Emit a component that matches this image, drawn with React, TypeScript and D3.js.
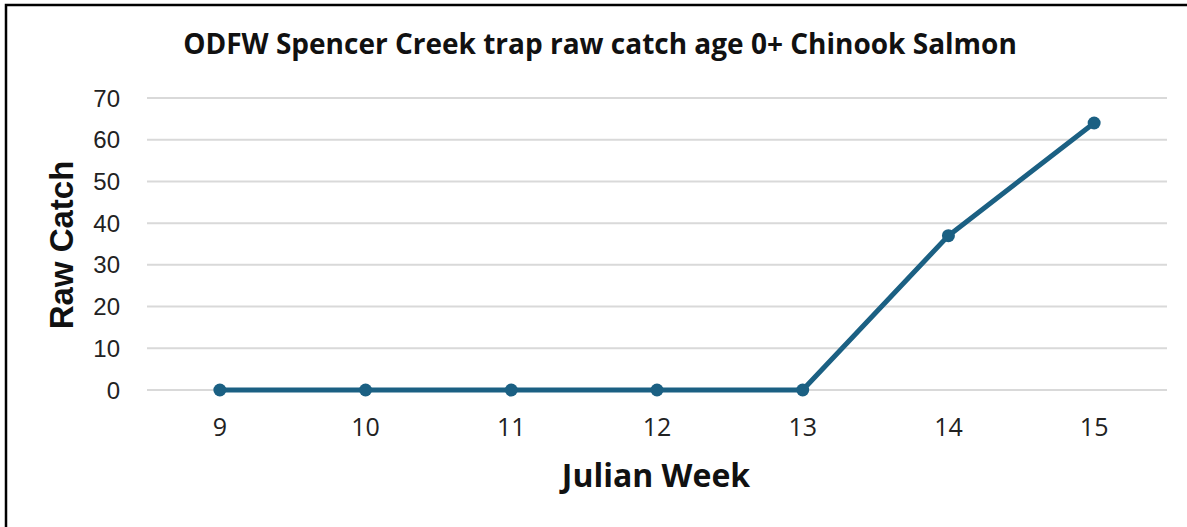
import React from "react";
import * as d3 from "d3";

const weeks = [9, 10, 11, 12, 13, 14, 15];
const rawCatch = [0, 0, 0, 0, 0, 37, 64];
const yTicks = [0, 10, 20, 30, 40, 50, 60, 70];
const title = "ODFW Spencer Creek trap raw catch age 0+ Chinook Salmon";
const xTitle = "Julian Week";
const yTitle = "Raw Catch";

const W = 1187;
const H = 527;
const plot = { left: 147, right: 1167, top: 98, bottom: 390 };
const color = "#1b6083";

export default function App() {
  const x = d3
    .scalePoint<number>()
    .domain(weeks)
    .range([plot.left, plot.right])
    .padding(0.5);
  const y = d3.scaleLinear().domain([0, 70]).range([plot.bottom, plot.top]);
  const pts = weeks.map((w, i) => [x(w) as number, y(rawCatch[i])] as [number, number]);
  const line = d3.line()(pts) || "";

  return (
    <svg
      width={W}
      height={H}
      style={{ position: "absolute", left: 0, top: 0, background: "#fff" }}
    >
      <rect x={0} y={0} width={W} height={H} fill="#fff" />
      <rect x={6} y={5} width={W + 20} height={H + 20} fill="none" stroke="#000" strokeWidth={2.5} />
      <text
        x={600}
        y={54}
        textAnchor="middle"
        fontFamily="'Open Sans', sans-serif"
        fontWeight="bold"
        fontSize={28}
        fill="#111"
      >
        {title}
      </text>
      {yTicks.map((t) => (
        <g key={t}>
          <line x1={plot.left} x2={plot.right} y1={y(t)} y2={y(t)} stroke="#d9d9d9" strokeWidth={2} />
          <text
            x={120}
            y={y(t)}
            dy="0.36em"
            textAnchor="end"
            fontFamily="'Liberation Sans', Arial, sans-serif"
            fontSize={24}
            fill="#222"
          >
            {t}
          </text>
        </g>
      ))}
      {weeks.map((w) => (
        <text
          key={w}
          x={x(w) as number}
          y={436}
          textAnchor="middle"
          fontFamily="'Open Sans', sans-serif"
          fontSize={25}
          fill="#222"
        >
          {w}
        </text>
      ))}
      <path d={line} fill="none" stroke={color} strokeWidth={5} strokeLinejoin="round" />
      {pts.map((p, i) => (
        <circle key={i} cx={p[0]} cy={p[1]} r={6.5} fill={color} />
      ))}
      <text
        x={656}
        y={487}
        textAnchor="middle"
        fontFamily="'Open Sans', sans-serif"
        fontWeight="bold"
        fontSize={32}
        fill="#111"
      >
        {xTitle}
      </text>
      <text
        transform={`translate(73,245) rotate(-90)`}
        textAnchor="middle"
        fontFamily="'Liberation Sans', Arial, sans-serif"
        fontWeight="bold"
        fontSize={33}
        fill="#111"
      >
        {yTitle}
      </text>
    </svg>
  );
}
